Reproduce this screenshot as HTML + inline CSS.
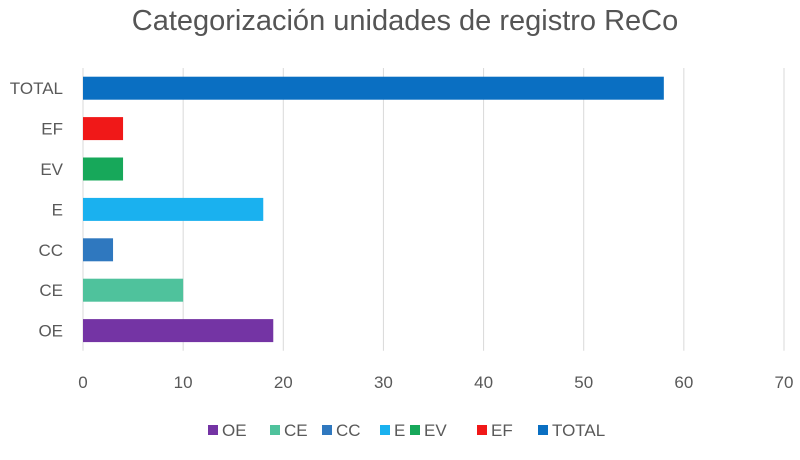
<!DOCTYPE html>
<html><head><meta charset="utf-8"><style>
body{margin:0;background:#fff;}
svg text{font-family:"Liberation Sans",sans-serif;}
</style></head><body>
<svg id="c" width="800" height="455" xmlns="http://www.w3.org/2000/svg">
<rect width="800" height="455" fill="#fff"/>
<text x="405" y="30" text-anchor="middle" font-size="29" fill="#555">Categorización unidades de registro ReCo</text>
<g id="grid"></g><g id="bars"></g><g id="ylab"></g><g id="xlab"></g><g id="legend"></g>
</svg>
<script>
const categories = ["TOTAL","EF","EV","E","CC","CE","OE"];
const values = [58,4,4,18,3,10,19];
const colors = ["#0a6fc2","#f01818","#17a85a","#1ab1ef","#2f78bf","#4fc29c","#7434a4"];
const ticks = [0,10,20,30,40,50,60,70];
const legendOrder = ["OE","CE","CC","E","EV","EF","TOTAL"];
const legendX = [208,270,322,380,410,477,538];
const NS="http://www.w3.org/2000/svg";
const x0=83,x1=784,top0=68,bandH=40.4;
const xs=v=>x0+(x1-x0)*v/70;
const yc=i=>top0+bandH*i+bandH/2;
function mk(t,a,p){const e=document.createElementNS(NS,t);for(const k in a)e.setAttribute(k,a[k]);document.getElementById(p).appendChild(e);return e;}
ticks.forEach(t=>{
  const l=mk("line",{x1:xs(t),x2:xs(t),y1:top0,y2:top0+bandH*7,stroke:"#d9d9d9","stroke-width":1},"grid");
  
  
  const tx=mk("text",{x:xs(t),y:388,"text-anchor":"middle","font-size":17,fill:"#595959"},"xlab");
  tx.textContent=t;
  
  
});
categories.forEach((c,i)=>{
  const r=mk("rect",{x:x0,y:yc(i)-11.5,width:xs(values[i])-x0,height:23,fill:colors[i]},"bars");
  
  
  const t=mk("text",{x:63,y:yc(i)+6,"text-anchor":"end","font-size":17,fill:"#595959"},"ylab");
  t.textContent=c;
  
  
});
legendOrder.forEach((c,i)=>{
  const ci=categories.indexOf(c);
  const r=mk("rect",{x:legendX[i],y:425,width:10,height:10,fill:colors[ci]},"legend");
  
  
  const t=mk("text",{x:legendX[i]+14,y:436,"font-size":17,fill:"#595959"},"legend");
  t.textContent=c;
  
  
});
</script>
</body></html>
